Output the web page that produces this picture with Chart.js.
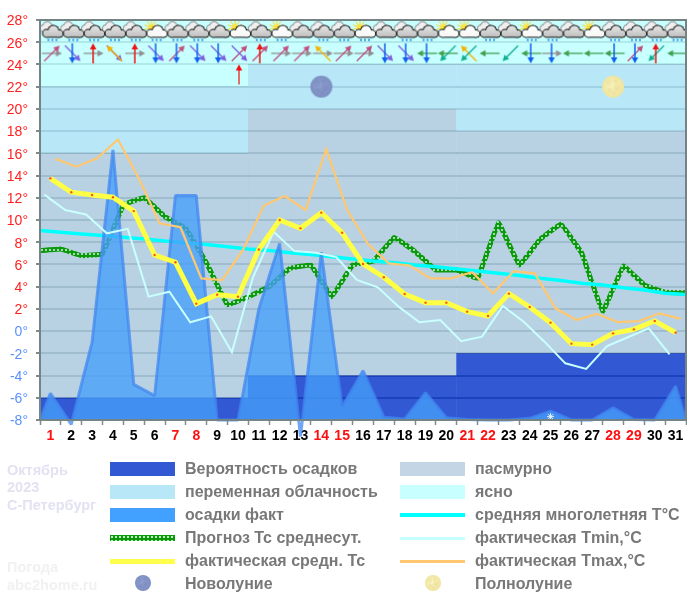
<!DOCTYPE html>
<html lang="ru">
<head>
<meta charset="utf-8">
<title>Погода Октябрь 2023 С-Петербург</title>
<script src="https://cdn.jsdelivr.net/npm/chart.js@4/dist/chart.umd.min.js"></script>
<style>
html,body{margin:0;padding:0;background:#fff}
#wrap{position:relative;width:687px;height:599px;overflow:hidden;font-family:"Liberation Sans",Arial,sans-serif}
canvas#c{position:absolute;left:0;top:0}
.lt{position:absolute;font-size:16px;line-height:18px;font-weight:bold;color:#787878;white-space:nowrap}
.sw{position:absolute;width:65px}
.ct{position:absolute;left:7px;font-size:14.5px;line-height:18px;font-weight:bold;white-space:nowrap}
</style>
</head>
<body>
<div id="wrap"><canvas id="c" width="687" height="599"></canvas></div>
<script>
// ---------- values ----------
const dayLabels = ['1','2','3','4','5','6','7','8','9','10','11','12','13','14','15','16','17','18','19','20','21','22','23','24','25','26','27','28','29','30','31'];
const weekendDays = [1,7,8,14,15,21,22,28,29];
const yTicksMin = -8, yTicksMax = 28;
const tMean = [13.75,12.5,12.25,12.05,10.8,6.85,6.2,2.47,3.28,3.1,7.35,10,9.25,10.66,8.85,6.04,4.85,3.34,2.56,2.56,1.75,1.36,3.37,2.17,0.76,-1.13,-1.22,-0.2,0.16,0.91,-0.14];
const tMax = [15.5,14.8,15.55,17.25,13.75,9.7,9.35,4.75,4.6,7.3,11.3,12.15,10.9,16.37,10.9,7.84,6.1,5.9,4.75,4.75,5.3,3.4,5.4,5.2,2.05,1.0,1.54,0.8,0.9,1.6,1.1];
const tMin = [12.28,10.9,10.5,8.8,9.2,3.1,3.55,0.8,1.33,-1.9,4.8,8.95,7.2,7.05,6.67,4.6,3.94,2.2,0.8,1.0,-0.9,-0.5,2.26,0.85,-0.95,-2.9,-3.4,-1.34,-0.55,0.25,-2.1];
// forecast and long-term mean are read at the day boundaries (32 values)
const tForecast = [7.24,7.39,6.79,6.95,11.35,12.0,10.3,9.25,6.1,2.35,3.1,4.0,5.65,5.95,3.1,5.95,6.3,8.44,7.15,5.5,5.5,4.75,9.75,5.95,8.26,9.64,7.0,1.75,5.86,4.15,3.5,3.46];
const tNorm = [9.05,8.9,8.75,8.6,8.45,8.3,8.1,7.95,7.8,7.6,7.4,7.25,7.05,6.9,6.7,6.5,6.3,6.15,5.95,5.8,5.6,5.4,5.2,5.0,4.75,4.55,4.3,4.15,3.9,3.7,3.4,3.3];
const rainFact = [-5.6,-8.4,-1,16.3,-4.8,-5.8,12.2,12.2,-8,-8,2,7.9,-9.5,7.1,-6.8,-3.56,-7.75,-7.9,-5.55,-7.8,-7.95,-8,-8,-7.85,-7.2,-8,-8,-6.9,-7.95,-8,-4.95];
const rainEdgeValue = -8;
// sky forecast: three ten-day periods
const periodEdges = [0.5,10.5,20.5,31.5];
const clearBottom = [22,24,24];
const partlyBottom = [16,20,18];
const precipTop = [-6,-4,-2];
// weather icons per day: g = grey cloud, s = sun and cloud; r = rain
const skyIcons = ['gr','gr','gr','gr','gr','sr','gr','gr','g','s','gr','sr','g','gr','gr','sr','g','gr','gr','s','s','gr','g','sr','gr','g','s','gr','gr','gr','gr'];
// wind arrows: days on which each direction was seen
const windNE = [1,7,10,11,12,13,15,16,29];
const windE = [1,3,5,12,13,14,15,16,25];
const windS = [2,6,7,8,9,17,18,19,24,25,28,29];
const windSE = [2,4,6,8,9,10,17,18];
const windN = [3,5,11,30];
const windNW = [4,14,21];
const windW = [19,20,22,24,26,27,28,31];
const windSW = [20,21,23,30];
const windLevel = 25, cloudLevel = 26.8, moonLevel = 22;
const windExtraN = [10], windExtraLevel = 23.1;
const newMoonDays = [14], fullMoonDays = [28], snowDays = [25], snowLevel = -7.7;

// ---------- offsets ----------
const offMax = 0.24, offMin = -0.29, offEdge = -0.5, bandOverlap = 0.03;

// ---------- tile helpers ----------
function tile(w,h,draw){const t=document.createElement('canvas');t.width=w;t.height=h;draw(t.getContext('2d'));return t;}
function blob(g,parts,fill,line,lw){
  g.fillStyle=line;
  parts.forEach(p=>{g.beginPath();g.arc(p[0],p[1],p[2]+lw,0,Math.PI*2);g.fill();});
  g.fillRect(parts[0][0],parts[0][1]+parts[0][2]-1,parts[2][0]-parts[0][0],lw+1);
  g.fillStyle=fill;
  parts.forEach(p=>{g.beginPath();g.arc(p[0],p[1],p[2],0,Math.PI*2);g.fill();});
}
function cloudTile(kind){
  return tile(28,26,g=>{
    const sun=kind[0]==='s', rain=kind.indexOf('r')>=0;
    if(sun){
      g.strokeStyle='#ffd21e';g.lineWidth=1;
      for(let i=0;i<9;i++){const a=Math.PI*(0.9+i*0.2);g.beginPath();g.moveTo(11+Math.cos(a)*3,7+Math.sin(a)*3);g.lineTo(11+Math.cos(a)*7.5,7+Math.sin(a)*7.5);g.stroke();}
      g.fillStyle='#ffe23c';g.beginPath();g.arc(11,7,3.2,0,Math.PI*2);g.fill();
    } else {
      blob(g,[[7,8,3],[11,6,4.2],[15,8,3]],'#efefef','#777',.8);
    }
    const grad=g.createLinearGradient(0,5,0,17);
    if(sun){grad.addColorStop(0,'#ffffff');grad.addColorStop(1,'#f6f6f6');}
    else{grad.addColorStop(0,'#e8e8e8');grad.addColorStop(1,'#bdbdbd');}
    blob(g,[[10,13,3.4],[17,10.5,5],[23,13.2,3.2]],grad,'#111',1);
    g.fillStyle=grad;g.fillRect(10,12,13,4.4);
    if(rain){
      g.fillStyle='#1e8cf0';
      [11,15,19].forEach(x=>{g.fillRect(x,19,2,1);g.fillRect(x+.5,18.5,1,2.5);});
    }
  });
}
function arrowTile(dx,dy,len,color,w,head,cx,cy){
  return tile(30,30,g=>{
    const X=15+(cx||0),Y=15+(cy||0);
    const x1=X-dx*len/2,y1=Y-dy*len/2,x2=X+dx*len/2,y2=Y+dy*len/2;
    g.strokeStyle=color;g.fillStyle=color;g.lineWidth=w;
    g.beginPath();g.moveTo(x1,y1);g.lineTo(x2-dx*head*.6,y2-dy*head*.6);g.stroke();
    const px=-dy,py=dx,hw=head*.55;
    g.beginPath();g.moveTo(x2,y2);g.lineTo(x2-dx*head+px*hw,y2-dy*head+py*hw);g.lineTo(x2-dx*head-px*hw,y2-dy*head-py*hw);g.closePath();g.fill();
  });
}
function moonTile(r,base,edge,spot){
  const s=r*2+2;
  return tile(s,s,g=>{
    const c=r+1,gr=g.createRadialGradient(c-r*.2,c-r*.2,1,c,c,r);
    gr.addColorStop(0,base);gr.addColorStop(1,edge);
    g.fillStyle=gr;g.beginPath();g.arc(c,c,r,0,Math.PI*2);g.fill();
    g.fillStyle=spot;
    [[-.35,-.3,.28],[.2,-.45,.2],[.3,.1,.3],[-.3,.3,.22],[.05,.55,.16]].forEach(m=>{g.beginPath();g.arc(c+m[0]*r,c+m[1]*r,m[2]*r,0,Math.PI*2);g.fill();});
  });
}
const chainTile = tile(4,4,g=>{g.fillStyle='#0a9a0a';g.fillRect(0,0,4,4);g.clearRect(1,1,2,2);g.fillStyle='rgba(150,220,150,.55)';g.fillRect(1,1,2,2);});
const chain = document.createElement('canvas').getContext('2d').createPattern(chainTile,'repeat');

const cloudCache = {};
skyIcons.forEach(k=>{if(!cloudCache[k])cloudCache[k]=cloudTile(k);});
const d2 = Math.SQRT1_2;

function xy(values,off){return values.map((v,i)=>({x:i+1+off,y:v}));}
function iconSet(days,level,style){
  return {type:'scatter',data:days.map(d=>({x:d,y:level})),showLine:false,pointStyle:style,pointRadius:10,pointHoverRadius:10,clip:false};
}

// ---------- bands ----------
function bandSet(i,lo,hi,color){
  return {data:[{x:periodEdges[i]-(i?bandOverlap:0),y:hi},{x:periodEdges[i+1],y:hi}],borderWidth:0,pointRadius:0,fill:{value:lo},backgroundColor:color,borderColor:'transparent',tension:0};
}
const clearC='rgba(190,255,255,.85)',partlyC='rgba(171,228,247,.85)',overC='rgba(171,202,223,.85)',precipC='rgba(15,59,204,.85)';
const bands=[];
for(let i=0;i<3;i++){
  bands.push(bandSet(i,clearBottom[i],yTicksMax,clearC));
  bands.push(bandSet(i,partlyBottom[i],clearBottom[i],partlyC));
  bands.push(bandSet(i,precipTop[i],partlyBottom[i],overC));
  bands.push(bandSet(i,yTicksMin,precipTop[i],precipC));
}

const rainPts=[{x:periodEdges[0],y:rainEdgeValue},...xy(rainFact,0),{x:periodEdges[3],y:rainEdgeValue}];
const layers=[
  ...bands,
  {data:xy(tForecast,offEdge),borderColor:chain,borderWidth:5,pointRadius:0,tension:.05,fill:false},
  {data:xy(tNorm,offEdge),borderColor:'#00ffff',borderWidth:3.5,pointRadius:0,fill:false},
  {data:rainPts,borderColor:'rgba(66,136,240,.75)',borderWidth:3,borderJoinStyle:'bevel',pointRadius:0,fill:{value:rainEdgeValue},backgroundColor:'rgba(70,159,250,.78)',clip:{left:0,top:0,right:0,bottom:20}},
  {type:'scatter',data:snowDays.map(d=>({x:d,y:snowLevel})),showLine:false,pointStyle:'star',pointRadius:3.5,borderColor:'#e8f4ff',borderWidth:1},
  {data:xy(tMin,offMin),borderColor:'#c8ffff',borderWidth:2,pointRadius:0,fill:false},
  {data:xy(tMax,offMax),borderColor:'#ffc870',borderWidth:2.2,pointRadius:0,fill:false},
  {data:xy(tMean,0),borderColor:'#ffff44',borderWidth:5,pointRadius:1.2,pointBackgroundColor:'#ff5020',pointBorderWidth:0,fill:false},
  {type:'scatter',data:skyIcons.map((k,i)=>({x:i+1,y:cloudLevel})),showLine:false,pointStyle:skyIcons.map(k=>cloudCache[k]),pointRadius:12,clip:false},
  iconSet(windE,windLevel,arrowTile(1,0,20,'#909090',1.3,6,1.5,0)),
  iconSet(windNE,windLevel,arrowTile(d2,-d2,22,'#c05080',1.3,6,1.5,0)),
  iconSet(windSE,windLevel,arrowTile(d2,d2,22,'#8060e0',1.3,6,1.5,0)),
  iconSet(windNW,windLevel,arrowTile(-d2,-d2,22,'#f4b400',1.3,6,1.5,0)),
  iconSet(windSW,windLevel,arrowTile(-d2,d2,22,'#10b090',1.3,6,1.5,0)),
  iconSet(windW,windLevel,arrowTile(-1,0,20,'#40a050',1.3,6,1.5,0)),
  iconSet(windS,windLevel,arrowTile(0,1,20,'#1060f0',1.5,6,1,0)),
  iconSet(windN,windLevel,arrowTile(0,-1,20,'#f01010',1.5,6,1,0)),
  iconSet(windExtraN,windExtraLevel,arrowTile(0,-1,20,'#f01010',1.2,6,1,0)),
  iconSet(newMoonDays,moonLevel,moonTile(11,'#8f9fd0','#7d8ec2','rgba(90,105,165,.14)')),
  iconSet(fullMoonDays,moonLevel,moonTile(11,'#fbf4bc','#efe49c','rgba(205,195,130,.18)'))
];
layers.forEach((d,i)=>{d.order=layers.length-i;d.spanGaps=true;});

const frame={id:'frame',afterDatasetsDraw(ch){
  const a=ch.chartArea,g=ch.ctx;g.save();g.strokeStyle='#748484';g.lineWidth=2;g.strokeRect(a.left,a.top,a.right-a.left,a.bottom-a.top);g.restore();
}};

new Chart(document.getElementById('c'),{
  type:'line',
  data:{datasets:layers},
  plugins:[frame],
  options:{
    responsive:false,animation:false,events:[],
    layout:{autoPadding:false,padding:{top:20,right:1,left:0,bottom:0}},
    plugins:{legend:{display:false},tooltip:{enabled:false},title:{display:false}},
    elements:{line:{tension:0,borderCapStyle:'butt'}},
    scales:{
      x:{type:'linear',min:periodEdges[0],max:periodEdges[3],
        afterFit(s){s.height=179;s.paddingLeft=0;s.paddingRight=0;},
        afterBuildTicks(s){s.ticks=[...dayLabels,''].map((_,i)=>({value:periodEdges[0]+i}));},
        grid:{drawOnChartArea:false,tickLength:5,tickColor:'#7f8c8c',tickWidth:1.5},
        border:{display:false},
        ticks:{autoSkip:false,maxRotation:0,minRotation:0,labelOffset:10.4,padding:3,
          font:{family:'"Liberation Sans",Arial,sans-serif',size:14,weight:'bold'},
          callback(v,i){return dayLabels[i]||'';},
          color(c){return weekendDays.includes(c.index+1)?'#ff1010':'#000';}}
      },
      y:{min:yTicksMin,max:yTicksMax,
        afterFit(s){s.width=40;s.paddingTop=0;s.paddingBottom=0;},
        grid:{color:'#5f6a75',lineWidth:2,tickColor:'#7f8c8c',tickLength:4},
        border:{display:false},
        ticks:{stepSize:2,padding:8,labelOffset:1.5,autoSkip:false,
          font:{family:'"Liberation Sans",Arial,sans-serif',size:14},
          callback(v){return v+'°';},
          color(c){return c.tick.value>=2?'#ff2020':'#5a92ff';}}
      }
    }
  }
});

// ---------- legend and captions ----------
const legendLeft=['Вероятность осадков','переменная облачность','осадки факт','Прогноз Тс среднесут.','фактическая средн. Тс','Новолуние'];
const legendRight=['пасмурно','ясно','средняя многолетняя T°C','фактическая Tmin,°C','фактическая Tmax,°C','Полнолуние'];
const rowCentres=[469,492,515,538,561,584];
const swLeft=[['#3358d4',14],['#b8e8f8',14],['#42a0ff',14],[null,6],['#ffff4d',5]];
const swRight=[['#c4d6e6',14],['#c8ffff',14],['#00ffff',4],['#c8ffff',3],['#ffc870',3]];
const wrap=document.getElementById('wrap');
function addText(cls,txt,x,y,color){const e=document.createElement('div');e.className=cls;e.textContent=txt;e.style.left=x+'px';e.style.top=y+'px';if(color)e.style.color=color;wrap.appendChild(e);}
function addSw(x,yc,s){const e=document.createElement('div');e.className='sw';e.style.left=x+'px';e.style.top=(yc-s[1]/2)+'px';e.style.height=s[1]+'px';
  if(s[0])e.style.background=s[0];else{e.style.background='url('+chainTile.toDataURL()+')';}wrap.appendChild(e);}
legendLeft.forEach((t,i)=>addText('lt',t,185,rowCentres[i]-9));
legendRight.forEach((t,i)=>addText('lt',t,475,rowCentres[i]-9));
swLeft.forEach((s,i)=>addSw(110,rowCentres[i],s));
swRight.forEach((s,i)=>addSw(400,rowCentres[i],s));
function addMoon(t,cx,cy){t.style.position='absolute';t.style.left=(cx-t.width/2)+'px';t.style.top=(cy-t.height/2)+'px';wrap.appendChild(t);}
addMoon(moonTile(8,'#8f9fd0','#7d8ec2','rgba(90,105,165,.14)'),143,583);
addMoon(moonTile(8,'#fbf4bc','#efe49c','rgba(205,195,130,.18)'),433,583);
[['Октябрь',470],['2023',487],['С-Петербург',505]].forEach(a=>addText('ct',a[0],7,a[1]-9,'#e2e2f2'));
[['Погода',567],['abc2home.ru',585]].forEach(a=>addText('ct',a[0],7,a[1]-9,'#f1f1f1'));
</script>
</body>
</html>
